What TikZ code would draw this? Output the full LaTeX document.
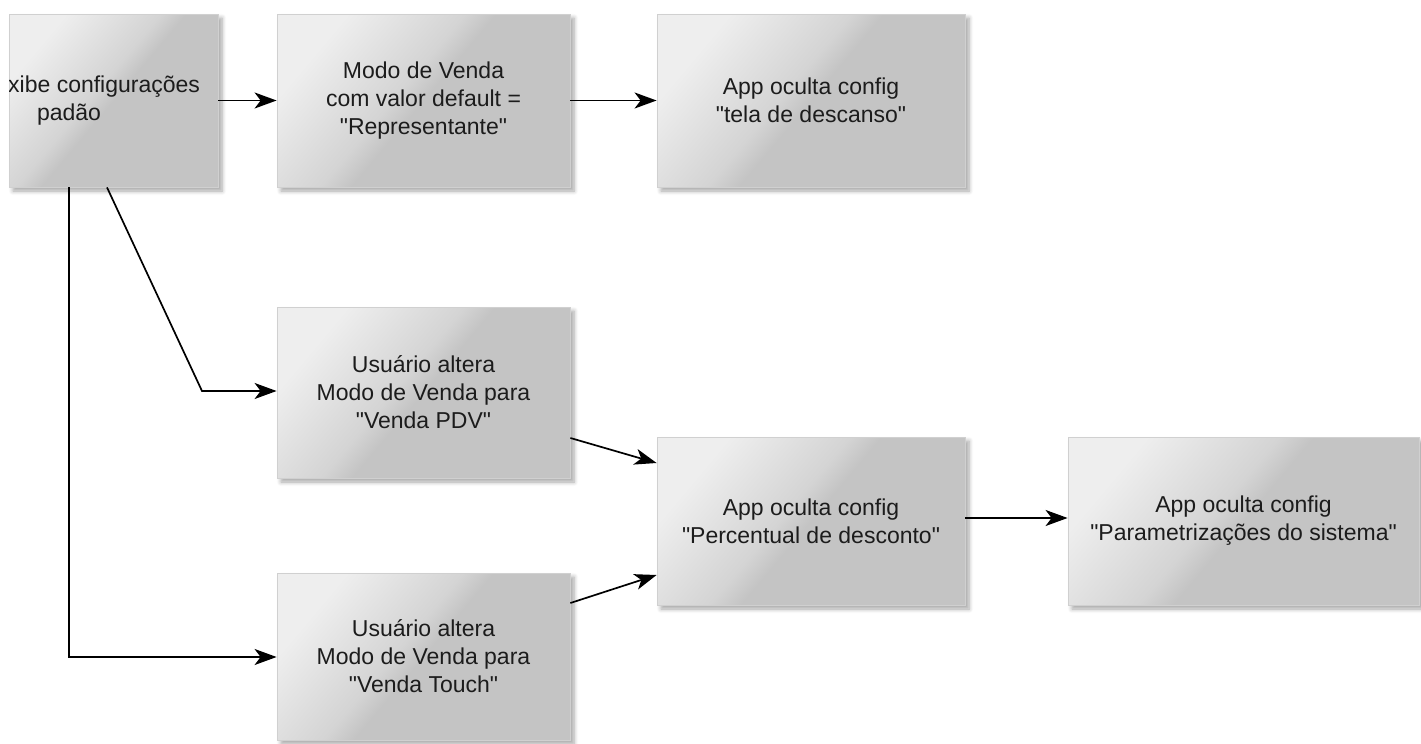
\documentclass[tikz,border=0pt]{standalone}
\usepackage{fontspec}
\setmainfont{Liberation Sans}[Ligatures=TeXOff]
\usetikzlibrary{arrows.meta,shadows.blur,calc}
\definecolor{boxlt}{RGB}{238,238,238}
\definecolor{boxmid}{RGB}{212,212,212}
\definecolor{boxbase}{RGB}{196,196,196}
\definecolor{txtc}{RGB}{28,28,28}
\pgfdeclarehorizontalshading{boxshade}{100bp}{color(0bp)=(boxlt); color(26bp)=(boxlt); color(45bp)=(boxmid); color(50bp)=(boxbase); color(100bp)=(boxbase)}
\tikzset{
  flowbox/.style={rectangle, inner sep=0pt, shading=boxshade, shading angle=-40,
    draw=boxbase!80!white, line width=0.4pt,
    blur shadow={shadow xshift=2pt, shadow yshift=-2pt, shadow blur steps=6, shadow opacity=35}},
  boxtext/.style={align=center, text=txtc, font=\fontsize{11.5}{14}\selectfont, inner sep=0pt},
  arr/.style={draw=black, line width=0.85pt, -{Stealth[length=11pt,width=8pt,inset=3pt]}}
}
\begin{document}
\begin{tikzpicture}[x=0.5pt,y=-0.5pt]
\useasboundingbox (0,0) rectangle (1421,744);
% boxes
\node[flowbox, minimum width=104.5pt, minimum height=86.5pt] (b1) at (113.5,100.5) {};
\node[flowbox, minimum width=146.5pt, minimum height=86.5pt, boxtext] (b2) at (423.5,100.5) {Modo de Venda\\com valor default =\\"Representante"};
\node[flowbox, minimum width=154pt, minimum height=86.5pt, boxtext] (b3) at (811,100.5) {App oculta config\\"tela de descanso"};
\node[flowbox, minimum width=146.5pt, minimum height=85.5pt, boxtext] (pdv) at (423.5,392.5) {Usuário altera\\Modo de Venda para\\"Venda PDV"};
\node[flowbox, minimum width=146.5pt, minimum height=83.5pt, boxtext] (touch) at (423.5,656.5) {Usuário altera\\Modo de Venda para\\"Venda Touch"};
\node[flowbox, minimum width=154pt, minimum height=84pt, boxtext] (perc) at (811,521) {App oculta config\\"Percentual de desconto"};
\node[flowbox, minimum width=175.5pt, minimum height=84pt, boxtext] (param) at (1243.5,521) {App oculta config\\"Parametrizações do sistema"};
% clipped text of first box
\begin{scope}
\clip (9,14) rectangle (218,187);
\node[boxtext] (b1t) at (69,101) {\makebox[131pt][r]{Exibe configurações}\\padão};
\end{scope}
% helper coordinates
\coordinate (k0) at (107,187);
\coordinate (k1) at (202,391);
\coordinate (k2) at (69,657);
% connectors
\draw[arr] (b1.east) -- (b2.west);
\draw[arr] (b2.east) -- (b3.west);
\draw[arr] (b1.south -| k0) -- (k1) -- (pdv.west |- k1);
\draw[arr] (b1.south -| k2) -- (k2) -- (touch.west |- k2);
\draw[arr] ([yshift=-22.75pt]pdv.east) -- ([yshift=29pt]perc.west);
\draw[arr] ([yshift=26.75pt]touch.east) -- ([yshift=-27pt]perc.west);
\draw[arr] ([yshift=1.5pt]perc.east) -- ([yshift=1.5pt]param.west);
\end{tikzpicture}
\end{document}
